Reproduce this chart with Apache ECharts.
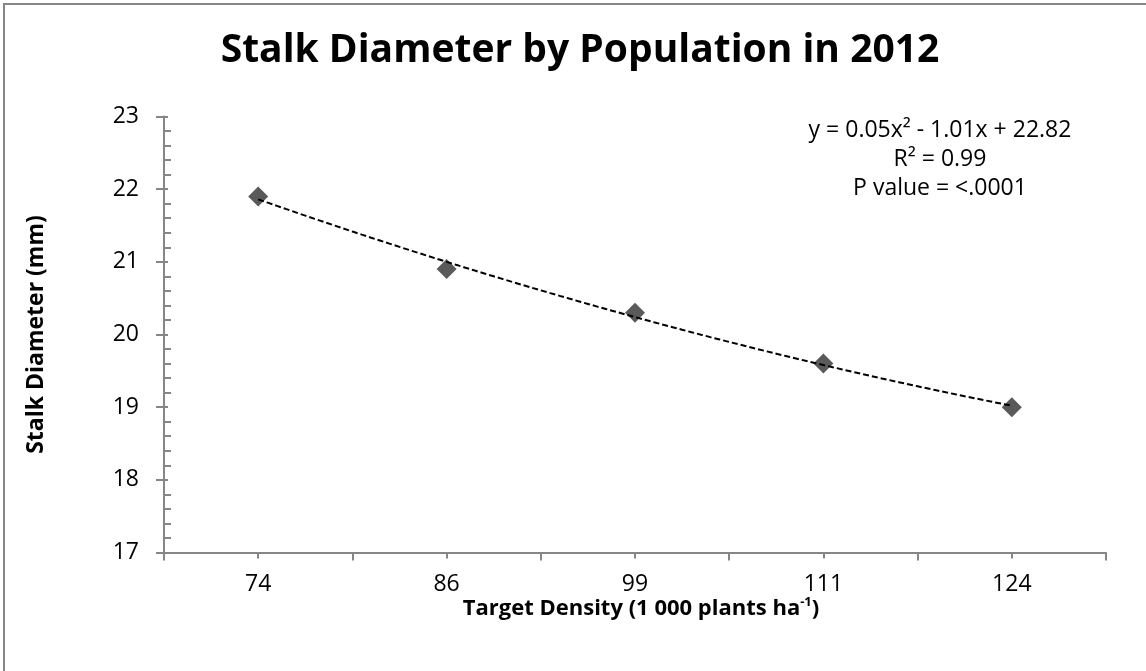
<!DOCTYPE html>
<html>
<head>
<meta charset="utf-8">
<style>
  html, body { margin: 0; padding: 0; background: #ffffff; }
  #chart { width: 1146px; height: 671px; }
</style>
<script src="https://cdn.jsdelivr.net/npm/echarts@6/dist/echarts.min.js"></script>
</head>
<body>
<div id="chart"></div>
<script>
// Target plant density (1 000 plants per hectare)
const densities = ['74', '86', '99', '111', '124'];
// Mean stalk diameter (mm) at each density
const stalkDiameter = [21.9, 20.9, 20.3, 19.6, 19.0];
// Quadratic trend y = a·x² + b·x + c, x = density position (1..5)
const trendCoef = [0.05, -1.01, 22.82];
const trendText = ['y = 0.05x² - 1.01x + 22.82', 'R² = 0.99', 'P value = <.0001'];
// Y axis range
const yTicks = [17, 18, 19, 20, 21, 22, 23];

const FONT = '"Open Sans", "Liberation Sans", sans-serif';
const AXIS_GREY = '#868686';

// Trend curve sampled along the density positions
const trendPoints = [];
for (let i = 0; i <= 80; i++) {
  const x = 1 + i * 0.05;
  trendPoints.push([x, trendCoef[0] * x * x + trendCoef[1] * x + trendCoef[2]]);
}

const chart = echarts.init(document.getElementById('chart'), null, { renderer: 'canvas' });

chart.setOption({
  animation: false,
  backgroundColor: '#ffffff',
  grid: { left: 164, right: 40, top: 116.5, bottom: 118.5, containLabel: false },
  graphic: [
    {
      type: 'rect',
      shape: { x: 4, y: 4, width: 1300, height: 900 },
      style: { fill: 'none', stroke: '#878787', lineWidth: 2 },
      z: 0
    },
    {
      type: 'text',
      x: 580, y: 51,
      style: {
        text: 'Stalk Diameter by Population in 2012',
        font: 'bold 39px ' + FONT,
        fill: '#000000',
        align: 'center',
        verticalAlign: 'middle'
      }
    },
    {
      type: 'text',
      x: 940, y: 159,
      style: {
        text: trendText.join('\n'),
        font: '23px ' + FONT,
        lineHeight: 29,
        fill: '#000000',
        align: 'center',
        verticalAlign: 'middle'
      }
    }
  ],
  xAxis: [
    {
      type: 'category',
      data: densities,
      boundaryGap: true,
      axisLine: { show: true, lineStyle: { color: AXIS_GREY, width: 2 } },
      axisTick: { show: true, alignWithLabel: false, length: 8, lineStyle: { color: AXIS_GREY, width: 2 } },
      axisLabel: { color: '#000000', fontFamily: FONT, fontSize: 23, margin: 20 },
      splitLine: { show: false },
      name: '{b|Target Density (1 000 plants ha}{s|-1}{b|)}',
      nameLocation: 'middle',
      nameGap: 43,
      nameMoveOverlap: false,
      nameTextStyle: {
        padding: [0, 0, 0, 12],
        rich: {
          b: { fontFamily: FONT, fontWeight: 'bold', fontSize: 22, color: '#000000', lineHeight: 26 },
          s: { fontFamily: FONT, fontWeight: 'bold', fontSize: 13, color: '#000000', lineHeight: 26, verticalAlign: 'top', padding: [0, 0, 12, 0] }
        }
      }
    },
    {
      // ticks centred under each density
      type: 'category',
      data: densities,
      boundaryGap: true,
      position: 'bottom',
      axisLine: { show: false },
      axisTick: { show: true, alignWithLabel: true, length: 6, lineStyle: { color: AXIS_GREY, width: 2 } },
      axisLabel: { show: false },
      splitLine: { show: false }
    },
    {
      // continuous position scale for the trend curve
      type: 'value',
      min: 0.5,
      max: 5.5,
      show: false
    }
  ],
  yAxis: [
    {
      type: 'value',
      min: yTicks[0],
      max: yTicks[yTicks.length - 1],
      interval: 1,
      axisLine: { show: true, lineStyle: { color: AXIS_GREY, width: 2 } },
      axisTick: { show: true, length: 8, lineStyle: { color: AXIS_GREY, width: 2 } },
      axisLabel: { color: '#000000', fontFamily: FONT, fontSize: 23, margin: 25 },
      splitLine: { show: false },
      name: 'Stalk Diameter (mm)',
      nameLocation: 'middle',
      nameGap: 116,
      nameMoveOverlap: false,
      nameTextStyle: { fontFamily: FONT, fontWeight: 'bold', fontSize: 23, color: '#000000' }
    },
    {
      // inner half of the crossing ticks plus minor ticks
      type: 'value',
      min: yTicks[0],
      max: yTicks[yTicks.length - 1],
      interval: 1,
      position: 'left',
      axisLine: { show: false },
      axisTick: { show: true, inside: true, length: 4, lineStyle: { color: AXIS_GREY, width: 2 } },
      minorTick: { show: true, splitNumber: 5, length: 7, lineStyle: { color: AXIS_GREY, width: 2 } },
      axisLabel: { show: false },
      splitLine: { show: false },
      minorSplitLine: { show: false }
    }
  ],
  series: [
    {
      name: 'Trend',
      type: 'line',
      xAxisIndex: 2,
      yAxisIndex: 0,
      data: trendPoints,
      showSymbol: false,
      symbol: 'none',
      smooth: false,
      lineStyle: { color: '#000000', width: 2, type: [6, 3] },
      z: 3
    },
    {
      name: 'Stalk diameter',
      type: 'scatter',
      xAxisIndex: 0,
      yAxisIndex: 0,
      data: stalkDiameter,
      symbol: 'diamond',
      symbolSize: 20,
      itemStyle: { color: '#5a5a5a', opacity: 1 },
      z: 2
    }
  ]
});
</script>
</body>
</html>
